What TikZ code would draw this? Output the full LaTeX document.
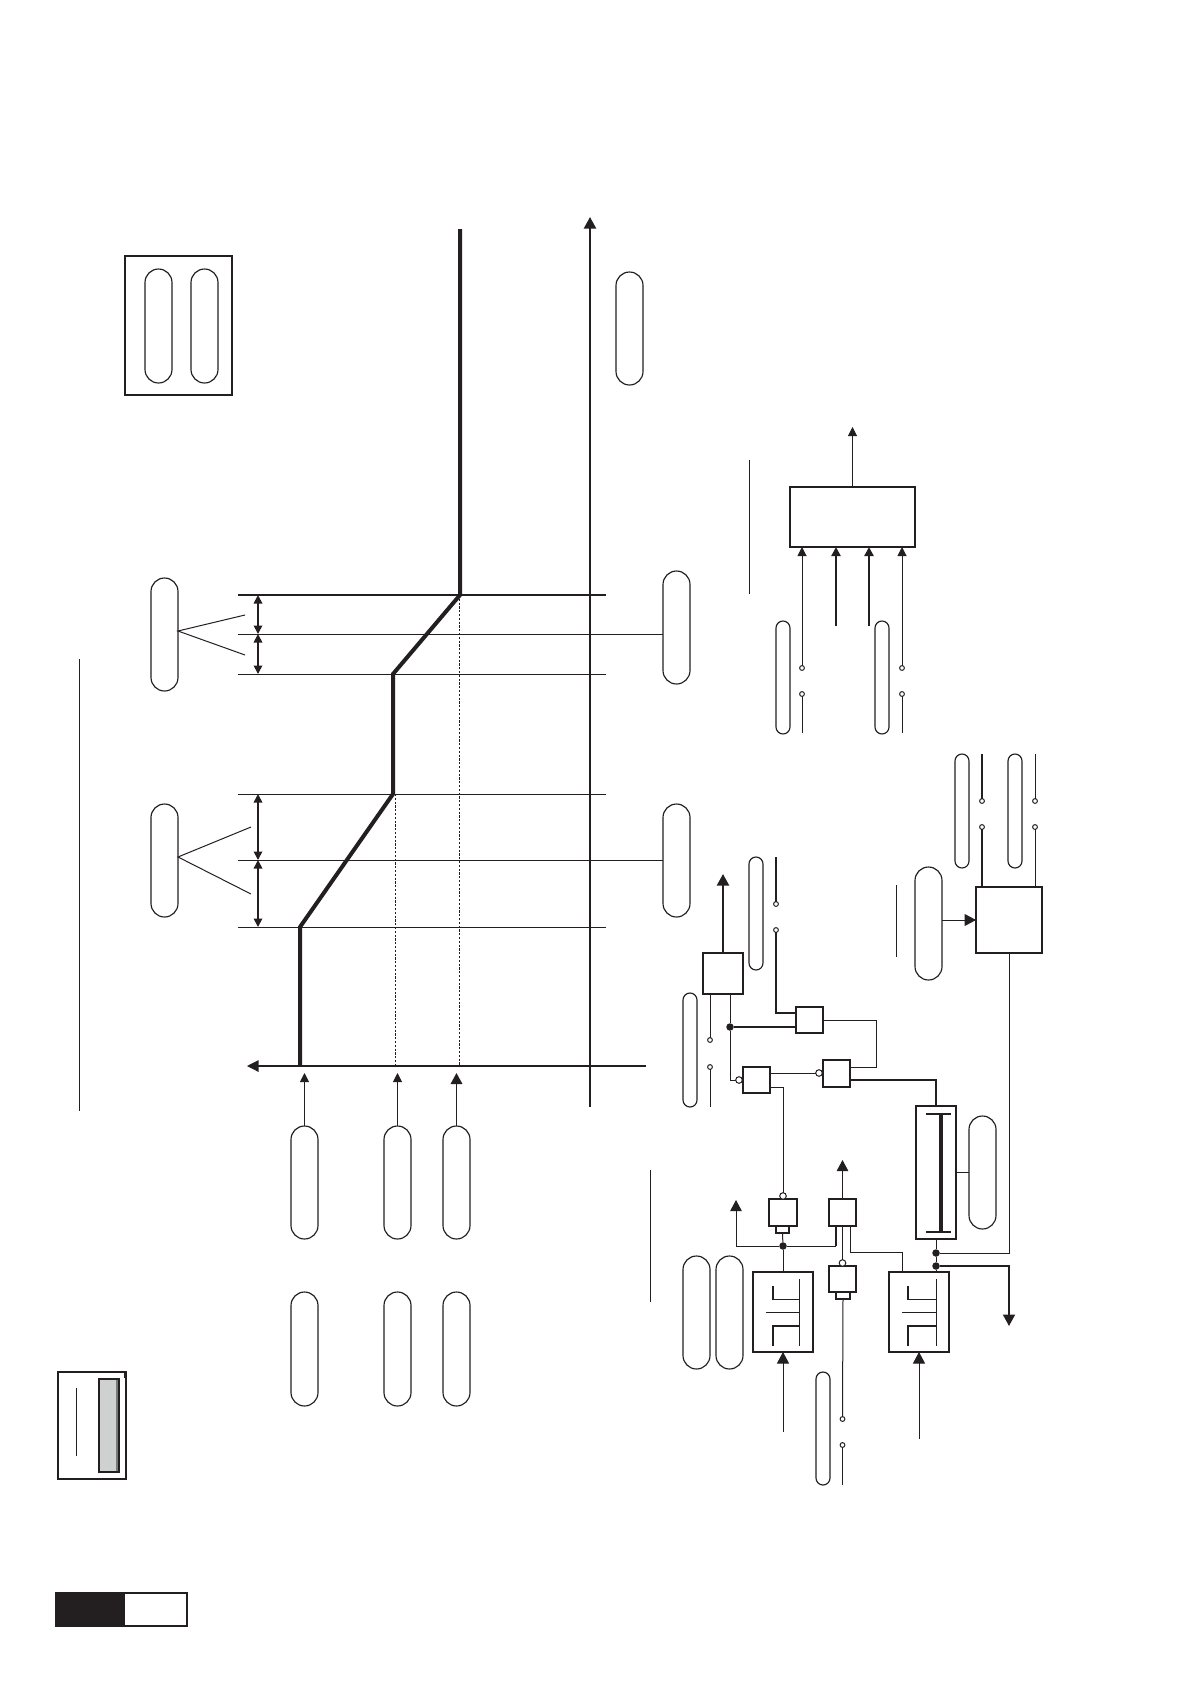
\documentclass[tikz,border=0pt]{standalone}
\usetikzlibrary{arrows.meta,calc}
\definecolor{ink}{HTML}{231F20}
\definecolor{panelgray}{HTML}{CFD1D1}
\definecolor{paneledge}{HTML}{77797A}
\tikzset{
  ln/.style={line width=1pt},
  lnm/.style={line width=1.7pt},
  lnb/.style={line width=4pt},
  pillshape/.style={draw,line width=1.15pt,inner sep=0pt,outer sep=0pt},
  boxshape/.style={draw,line width=1.2pt,inner sep=0pt,outer sep=0pt},
  opensmall/.style={circle,draw,line width=1pt,fill=white,inner sep=0pt,outer sep=0pt,minimum size=4.8pt},
  openbig/.style={circle,draw,line width=1pt,fill=white,inner sep=0pt,outer sep=0pt,minimum size=6.6pt},
  blackdot/.style={circle,fill=ink,inner sep=0pt,outer sep=0pt,minimum size=7.5pt},
  tipS/.style={-{Triangle[length=9pt,width=9pt]}},
  tipM/.style={-{Triangle[length=11pt,width=11.5pt]}},
  tipL/.style={-{Triangle[length=11.5pt,width=12pt]}},
  dimarrow/.style={lnm,{Triangle[length=8.5pt,width=8.5pt]}-{Triangle[length=8.5pt,width=8.5pt]}},
  dashline/.style={line width=0.8pt,dash pattern=on 2.2pt off 1.6pt},
}
\newcommand{\pillnode}[5]{%
  \pgfmathsetmacro\pkW{#4-#2}\pgfmathsetmacro\pkH{#5-#3}%
  \pgfmathsetmacro\pkX{(#2+#4)/2}\pgfmathsetmacro\pkY{(#3+#5)/2}%
  \pgfmathsetmacro\pkR{\pkW/2-0.01}%
  \node[pillshape,minimum width=\pkW pt,minimum height=\pkH pt,rounded corners=\pkR pt] (#1) at (\pkX,\pkY) {};}
\newcommand{\boxnode}[5]{%
  \pgfmathsetmacro\pkW{#4-#2}\pgfmathsetmacro\pkH{#5-#3}%
  \pgfmathsetmacro\pkX{(#2+#4)/2}\pgfmathsetmacro\pkY{(#3+#5)/2}%
  \node[boxshape,minimum width=\pkW pt,minimum height=\pkH pt] (#1) at (\pkX,\pkY) {};}
\newcommand{\transistor}[3]{%
  \draw[lnm] (#1,1286) -- (#1,1300);
  \draw[ln] (#1,1299) -- (#2,1299);
  \draw[ln] (#2,1279) -- (#2,1346);
  \draw[ln] (#3,1312) -- (#2,1312);
  \draw[lnm] (#1,1346) -- (#1,1326) -- (#2,1326);}
\begin{document}
\begin{tikzpicture}[x=1pt,y=-1pt,color=ink,line cap=butt]
\useasboundingbox (0,0) rectangle (1190,1684);
\fill[white] (0,0) rectangle (1190,1684);

% ---------- page tab and legends
\fill[ink] (56,1593) rectangle (125,1626);
\draw[line width=1.3pt] (56,1593) rectangle (187,1626);
\boxnode{legA}{58}{1372}{126}{1479}
\fill[ink] (124,1372) rectangle (126.5,1378);
\draw[line width=1.2pt,fill=panelgray] (99,1379) rectangle (119,1472);
\fill[paneledge] (116,1380) rectangle (118.2,1471);
\coordinate (legAa) at (76,1388);
\coordinate (legAb) at (76,1456);
\draw[ln] (legAa) -- (legAb);

\boxnode{legB}{125}{256}{232}{395}
\draw[lnm] (legB.south west) rectangle (legB.north east);
\pillnode{kA}{145}{269}{172}{383}
\pillnode{kB}{191}{269}{218}{383}

\coordinate (barA) at (79,659);
\coordinate (barB) at (79,1111);
\draw[ln] (barA) -- (barB);

% ---------- chart
\pillnode{pLa}{151}{578}{178}{691}
\pillnode{pLb}{151}{804}{178}{917}
\pillnode{pRa}{663}{571}{690}{684}
\pillnode{pRb}{663}{804}{690}{917}
\pillnode{pTop}{616}{272}{643}{385}
\pillnode{pAa}{291}{1126}{318}{1239}
\pillnode{pAb}{384}{1126}{411}{1239}
\pillnode{pAc}{443}{1126}{470}{1239}
\pillnode{pBa}{291}{1292}{318}{1406}
\pillnode{pBb}{384}{1292}{411}{1406}
\pillnode{pBc}{443}{1292}{470}{1406}

\coordinate (h0) at (238,595);
\coordinate (h1) at (238,634);
\coordinate (h2) at (238,674);
\coordinate (h3) at (238,794);
\coordinate (h4) at (238,860);
\coordinate (h5) at (238,927);
\draw[lnm] (h0) -- (606,595);
\draw[ln] (h1) -- (pRa.west |- h1);
\draw[ln] (h2) -- (606,674);
\draw[ln] (h3) -- (606,794);
\draw[ln] (h4) -- (pRb.west |- h4);
\draw[ln] (h5) -- (606,927);

\draw[dimarrow] (258,595) -- (258,634);
\draw[dimarrow] (258,634) -- (258,674);
\draw[dimarrow] (258,794) -- (258,860);
\draw[dimarrow] (258,860) -- (258,927);

\coordinate (fanA) at (245,615);
\coordinate (fanB) at (245,655);
\coordinate (fanC) at (251,827);
\coordinate (fanD) at (251,894);
\draw[ln] (fanA) -- ([yshift=-53pt]pLa.north east) -- (fanB);
\draw[ln] (fanC) -- ([yshift=-53pt]pLb.north east) -- (fanD);

\draw[dashline] (395.5,794) -- (395.5,1066);
\draw[dashline] (459.5,595) -- (459.5,1066);

\coordinate (axL) at (646,1066);
\coordinate (axT) at (247,1066);
\draw[line width=1.1pt,-{Triangle[length=11.5pt,width=11.5pt]}] (axL) -- (axT);
\coordinate (axB) at (590,1107);
\coordinate (axU) at (590,217);
\draw[line width=2pt,-{Triangle[length=11.5pt,width=12pt]}] (axB) -- (axU);

\draw[lnb,miter limit=10] (460,229) -- (460,595) -- (393,674) -- (393,794) -- (300,927) -- (300,1066);

\coordinate (tA) at (304.5,1073);
\coordinate (tB) at (397.5,1073);
\coordinate (tC) at (456.5,1073);
\draw[ln,tipS] (pAa.north) -- (tA);
\draw[ln,tipS] (pAb.north) -- (tB);
\draw[lnm,tipM] (pAc.north) -- (tC);

% ---------- top right block
\boxnode{M}{790}{487}{915}{547}
\draw[lnm] (M.north west) -- (M.north east);
\coordinate (mOut) at (852.5,427);
\draw[ln,tipS] (M.north) -- (mOut);
\coordinate (mBar) at (749,460);
\coordinate (mBarB) at (749,594);
\draw[ln] (mBar) -- (mBarB);
\pillnode{pMa}{776}{621}{790}{734}
\pillnode{pMb}{875}{621}{889}{734}
\node[opensmall] (cMa) at (802,668) {};
\node[opensmall] (cMb) at (802,694) {};
\node[opensmall] (cMc) at (902,668) {};
\node[opensmall] (cMd) at (902,694) {};
\coordinate (mFa) at (802,733);
\coordinate (mFb) at (902,733);
\coordinate (mFc) at (836,626);
\coordinate (mFd) at (869,626);
\draw[ln] (cMb) -- (mFa);
\draw[ln] (cMd) -- (mFb);
\draw[ln,tipS] (cMa) -- ([xshift=12pt]M.south west);
\draw[ln,tipS] (cMc) -- ([xshift=-13pt]M.south east);
\draw[line width=2.2pt,tipS] (mFc) -- ([xshift=46pt]M.south west);
\draw[line width=2.2pt,tipS] (mFd) -- ([xshift=79pt]M.south west);

% ---------- logic block
\boxnode{H}{703}{953}{743}{994}
\boxnode{Ga}{796}{1007}{823}{1033}
\boxnode{Gb}{743}{1067}{770}{1093}
\boxnode{Gc}{823}{1060}{850}{1087}
\boxnode{Na}{769}{1199}{797}{1226}
\boxnode{Sa}{776}{1226}{789}{1233}
\boxnode{Nb}{829}{1199}{856}{1226}
\boxnode{Nc}{829}{1266}{856}{1292}
\boxnode{Sc}{836}{1292}{850}{1299}
\boxnode{Ta}{753}{1272}{813}{1352}
\boxnode{Tb}{889}{1272}{949}{1352}
\boxnode{I}{916}{1106}{956}{1239}
\boxnode{B}{976}{887}{1042}{953}
\draw[line width=3.2pt] (941,1114) -- (941,1232);
\draw[lnm] (926,1114) -- (951,1114);
\draw[lnm] (926,1232) -- (951,1232);
\transistor{773}{799}{766}
\transistor{908}{936}{902}

\pillnode{pHb}{749}{857}{763}{970}
\pillnode{pHc}{683}{993}{697}{1107}
\pillnode{pIr}{969}{1116}{996}{1229}
\pillnode{pNa}{683}{1256}{710}{1369}
\pillnode{pNb}{716}{1256}{743}{1369}
\pillnode{pNc}{816}{1372}{830}{1485}
\pillnode{pBl}{915}{867}{942}{980}
\pillnode{pBa2}{955}{754}{969}{868}
\pillnode{pBb2}{1008}{754}{1022}{868}

\node[opensmall] (cHa) at (776,904) {};
\node[opensmall] (cHb) at (776,930) {};
\node[opensmall] (cJa) at (710,1040) {};
\node[opensmall] (cJb) at (710,1067) {};
\node[opensmall] (cNa) at (842.5,1419) {};
\node[opensmall] (cNb) at (842.5,1445) {};
\node[opensmall] (cBa) at (982,801) {};
\node[opensmall] (cBb) at (982,827) {};
\node[opensmall] (cBc) at (1035,801) {};
\node[opensmall] (cBd) at (1035,827) {};
\node[openbig] (oGb) at (739,1080) {};
\node[openbig] (oGc) at (819,1073) {};
\node[openbig] (oNa) at (783,1196) {};
\node[openbig] (oNc) at (842.5,1263) {};
\node[blackdot] (dH) at (730,1027) {};
\node[blackdot] (dN) at (783,1246) {};
\node[blackdot] (dIa) at (936,1253) {};
\node[blackdot] (dIb) at (936,1266) {};

\coordinate (fH) at (776,857);
\coordinate (fHt) at (723,874);
\coordinate (fJ) at (710,1107);
\coordinate (fN) at (842.5,1485);
\coordinate (fBa) at (982,754);
\coordinate (fBc) at (1035,754);
\coordinate (fNt) at (736,1200);
\coordinate (fNu) at (842.5,1160);
\coordinate (jN) at (836,1246);
\coordinate (jE) at (902,1252);
\coordinate (fD) at (1009,1326);
\coordinate (fTa) at (783,1432);
\coordinate (fTb) at (919,1439);
\coordinate (barN) at (650,1170);
\coordinate (barNb) at (650,1302);
\coordinate (barP) at (896,885);
\coordinate (barPb) at (896,957);

\draw[line width=2pt,tipL] (H.north) -- (fHt);
\draw[ln] ([xshift=7pt]H.south west) -- (cJa);
\draw[ln] (cJb) -- (fJ);
\draw[ln] (barN) -- (barNb);
\draw[ln] (barP) -- (barPb);

\draw[lnm] (fH) -- (cHa);
\draw[lnm] (cHb) |- ([yshift=-6pt]Ga.north west);
\draw[lnm] (dH) -- ([yshift=-20pt]Ga.north west);
\draw[ln] ([xshift=27pt]H.south west) -- (dH);
\draw[ln] (dH) |- (oGb);
\draw[ln] (Ga.east) -- ++(53,0) |- ([yshift=-7pt]Gc.north east);
\draw[ln] ([yshift=-6pt]Gb.north east) -- (oGc);
\draw[ln] ([yshift=-20pt]Gb.north east) -| (oNa);
\draw[line width=2pt] ([yshift=-20pt]Gc.north east) -| ([xshift=20pt]I.north west);
\draw[lnm] (I.east |- pIr.west) -- (pIr.west);

\draw[ln] (Sa.south) -- (dN);
\draw[ln] (dN) -- (Ta.north);
\draw[ln,tipM] (dN) -| (fNt);
\draw[ln] (dN) -- (jN);
\draw[lnm] (jN) -- ([xshift=7pt]Nb.south west);
\draw[ln,tipM] (Nb.north) -- (fNu);
\draw[ln] (Nb.south) -- (oNc);
\draw[ln] ([xshift=-6pt]Nb.south east) |- (jE) -- ([xshift=13pt]Tb.north west);
\draw[ln] (Sc.south) -- (cNa);
\draw[ln] (cNb) -- (fN);

\draw[ln,tipL] (fTa) -- (Ta.south);
\draw[ln,tipL] (fTb) -- (Tb.south);

\draw[ln] ([xshift=20pt]I.south west) -- (dIa) -- (dIb) -- ([xshift=47pt]Tb.north west);
\draw[ln] (dIa) -| (B.south);
\draw[lnm,tipL] (dIb) -| (fD);

\draw[ln,tipL] (pBl.east |- B.west) -- (B.west);
\draw[lnm] (fBa) -- (cBa);
\draw[lnm] (cBb) -- ([xshift=6pt]B.north west);
\draw[ln] (fBc) -- (cBc);
\draw[ln] (cBd) -- ([xshift=59pt]B.north west);
\end{tikzpicture}
\end{document}
